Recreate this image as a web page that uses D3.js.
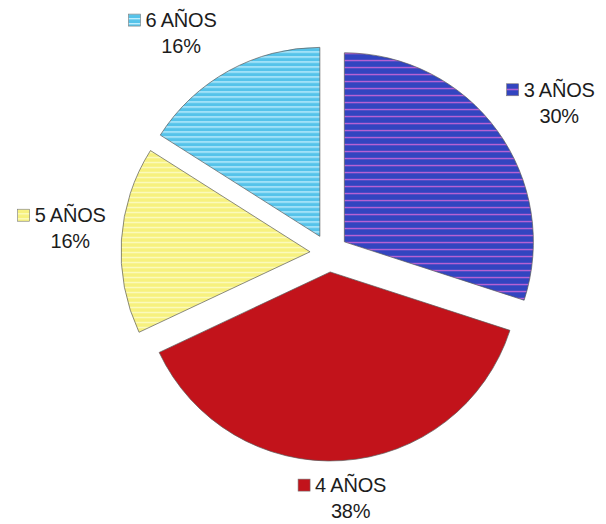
<!DOCTYPE html>
<html><head><meta charset="utf-8">
<script src="https://cdn.jsdelivr.net/npm/d3@7"></script>
<style>body{margin:0;background:#fff}svg{display:block}</style>
</head><body>
<script>
const categories = ["3 AÑOS", "4 AÑOS", "5 AÑOS", "6 AÑOS"];
const values = [30, 38, 16, 16];
const colors = ["#3245c0", "#c2131b", "#f7f17e", "#55c3ea"];
const stripeColors = ["#c765d6", "#b81018", "#fcfcc4", "#c9f1ff"];

const W = 606, H = 524;
const cx = 329, cy = 253, R = 189, explode = 19;
// small layout nudges for the label boxes (style, not data)
const labelNudge = [[11, 9], [6, -3], [8, -8], [-21, 11]];

const svg = d3.select("body").append("svg").attr("width", W).attr("height", H);
const defs = svg.append("defs");
categories.forEach((c, i) => {
  const h = i === 0 ? 7 : 5;
  const p = defs.append("pattern").attr("id", "pat" + i)
    .attr("patternUnits", "userSpaceOnUse").attr("width", 8).attr("height", h);
  p.append("rect").attr("width", 8).attr("height", h).attr("fill", colors[i]);
  if (i !== 1) p.append("rect").attr("y", 0).attr("width", 8).attr("height", 1.3).attr("fill", stripeColors[i]);
});

const pie = d3.pie().sort(null).value(d => d)(values);
const arc = d3.arc().innerRadius(0).outerRadius(R);
const total = d3.sum(values);

const g = svg.append("g").attr("transform", `translate(${cx},${cy})`);
g.selectAll("path.slice").data(pie).join("path")
  .attr("class", "slice")
  .attr("d", arc)
  .attr("transform", d => {
    const m = (d.startAngle + d.endAngle) / 2;
    return `translate(${explode * Math.sin(m)},${-explode * Math.cos(m)})`;
  })
  .attr("fill", (d, i) => `url(#pat${i})`)
  .attr("stroke", "#5a5a5a").attr("stroke-width", 0.7);

// labels
const hw = 42, hh = 22, gap = 16;
const lab = g.selectAll("g.lab").data(pie).join("g").attr("class", "lab")
  .attr("transform", (d, i) => {
    const m = (d.startAngle + d.endAngle) / 2;
    const ux = Math.sin(m), uy = -Math.cos(m);
    const dist = R + explode + gap + hw * Math.abs(ux) + hh * Math.abs(uy);
    return `translate(${dist * ux + labelNudge[i][0]},${dist * uy + labelNudge[i][1]})`;
  });
lab.append("text").attr("text-anchor", "middle").attr("y", -6)
  .attr("font-family", "Liberation Sans, Arial, sans-serif").attr("font-size", 20)
  .attr("fill", "#1c1c1c").attr("letter-spacing", -0.2)
  .text((d, i) => categories[i]);
lab.append("text").attr("text-anchor", "middle").attr("y", 20)
  .attr("font-family", "Liberation Sans, Arial, sans-serif").attr("font-size", 20)
  .attr("fill", "#1c1c1c").attr("letter-spacing", -0.2)
  .text(d => Math.round(d.value / total * 100) + "%");
lab.each(function(d, i) {
  const t = d3.select(this).select("text").node();
  const bb = t.getBBox();
  d3.select(this).insert("rect", "text")
    .attr("x", bb.x - 17).attr("y", -19).attr("width", 12).attr("height", 12)
    .attr("fill", `url(#pat${i})`).attr("stroke", "#777").attr("stroke-width", 0.6);
});
</script>
</body></html>
